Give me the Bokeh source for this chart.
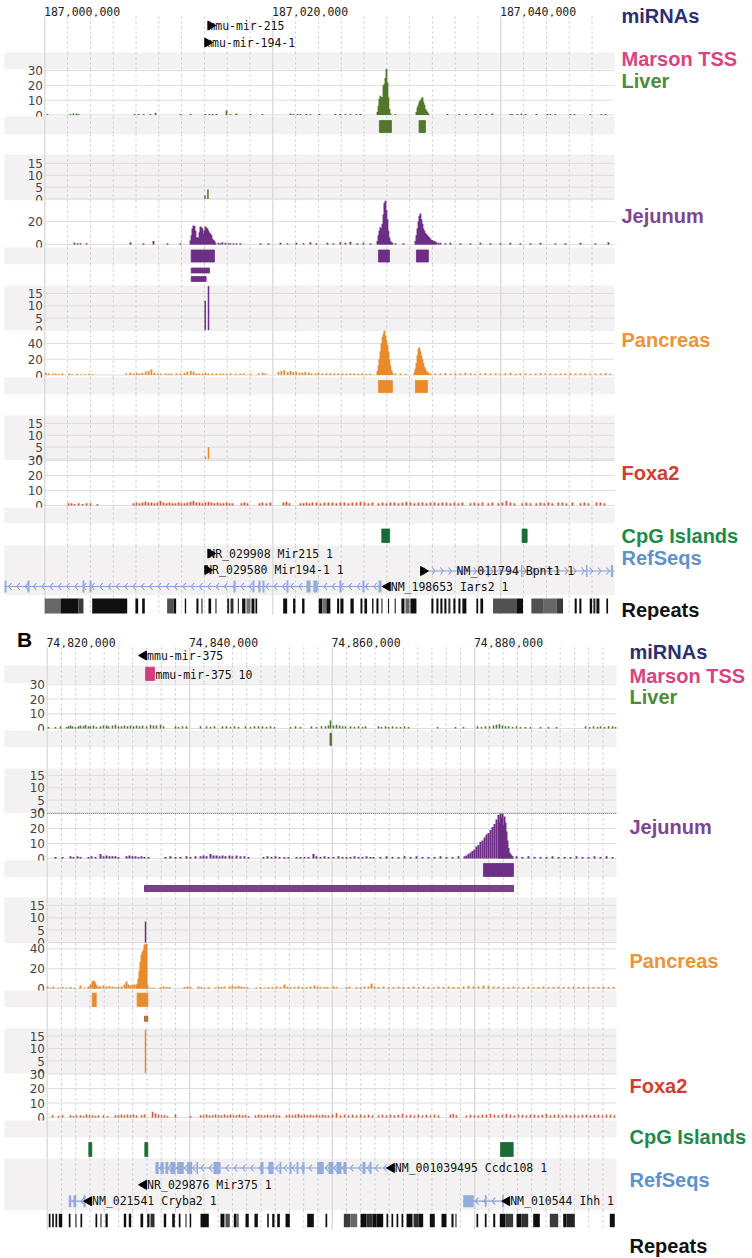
import math
from bokeh.plotting import figure
from bokeh.models import Range1d
from bokeh.layouts import column
from bokeh.embed import file_html
from bokeh.resources import INLINE
from bokeh.core.properties import value

# ============================ DATA ============================
A_START = 187_000_000
B_START = 74_820_000
A_RULER = [187_000_000, 187_020_000, 187_040_000]
B_RULER = [74_820_000, 74_840_000, 74_860_000, 74_880_000]
TRACK_LABELS = ["miRNAs", "Marson TSS", "Liver", "Jejunum", "Pancreas", "Foxa2", "CpG Islands", "RefSeqs", "Repeats"]

# ---- Panel A (positions: kb from A_START) ----
A_LIVER_POS = [0.24, 2.25, 2.51, 2.78, 2.96, 7.87, 8.22, 8.66, 9.27, 9.71, 11.90, 12.78, 14.09, 14.44, 14.71,
               15.06, 15.94, 16.29, 16.81, 18.04, 19.09, 21.55, 21.81, 22.16, 22.42, 22.95, 23.30, 24.09, 25.49, 25.93,
               26.37, 26.81, 27.34, 27.69,
               29.18, 29.27, 29.35, 29.44, 29.53, 29.62, 29.71, 29.79, 29.88, 29.97, 30.06, 30.14, 30.23, 30.32, 30.76,
               32.60, 32.69, 32.78, 32.86, 32.95, 33.04, 33.13, 33.21, 33.30, 33.39, 33.48, 33.56, 33.65,
               35.32, 36.37, 36.98, 37.77, 38.21, 38.74, 39.26, 40.84, 41.02, 41.46, 41.81, 42.16, 43.12, 44.09, 44.35,
               44.79, 46.11, 46.46, 47.86, 48.83, 49.18]
A_LIVER_VAL = [0.7, 0.7, 1, 1, 0.7, 0.7, 0.7, 0.7, 0.7, 1.5, 0.7, 0.7, 0.7, 0.7, 0.7,
               0.7, 3, 0.7, 1, 0.7, 0.7, 1, 0.7, 0.7, 0.7, 0.7, 0.7, 0.7, 0.7, 0.7,
               0.7, 0.7, 0.7, 0.7,
               2, 6, 11, 13, 12, 12, 20, 21, 25, 31, 22, 12, 4, 1, 0.7,
               2, 5, 7, 9, 10, 11, 12, 9, 7, 4, 3, 2, 1,
               0.7, 0.7, 0.7, 0.7, 0.7, 0.7, 1, 0.7, 0.7, 0.7, 1, 0.7, 0.7, 0.7, 0.7,
               0.7, 0.7, 0.7, 0.7, 0.7, 0.7]
A_LIVER_PEAK_S = [29.35, 32.83]
A_LIVER_PEAK_E = [30.41, 33.39]
A_LIVER2_POS = [14.05, 14.31]
A_LIVER2_VAL = [1.5, 4]

A_JEJ_POS = [2.60, 2.87, 3.13, 3.66, 7.52, 8.66, 9.53, 10.76, 11.90,
             12.78, 12.87, 12.95, 13.04, 13.13, 13.22, 13.30, 13.39, 13.48, 13.57, 13.65, 13.74, 13.83, 13.92, 14.00,
             14.09, 14.18, 14.27, 14.35, 14.44, 14.53, 14.62, 14.71, 14.79, 14.88, 14.97,
             15.23, 15.41, 15.58, 15.85, 16.11, 16.29, 16.55, 16.81, 17.16, 18.92, 19.62, 20.67, 21.29, 22.07, 22.69,
             23.30, 23.83, 24.79, 25.32, 25.93, 26.37, 26.81, 27.42, 27.95, 28.57,
             29.18, 29.27, 29.35, 29.44, 29.53, 29.62, 29.71, 29.79, 29.88, 29.97, 30.06, 30.14, 30.23, 30.32, 30.41, 30.49,
             30.76, 31.46,
             32.51, 32.60, 32.69, 32.78, 32.86, 32.95, 33.04, 33.13, 33.21, 33.30, 33.39, 33.48, 33.56, 33.65, 33.74,
             33.83, 33.92, 34.00, 34.09, 34.18, 34.27, 34.35, 34.53, 34.70,
             35.14, 35.58, 36.46, 37.33, 38.21, 39.09, 39.97, 40.84, 41.72, 42.60, 43.48, 44.79, 45.67, 46.99, 48.30, 49.44]
A_JEJ_VAL = [1.5, 1, 1, 1, 2, 1, 3, 1, 1,
             3.5, 8, 14, 16.5, 16, 12, 6, 6, 6, 10.7, 15.7, 15, 14, 9.5, 12,
             15.7, 14.5, 14, 12, 10.5, 9.5, 8, 5, 4, 3, 1.5,
             1.5, 1, 2, 1.5, 1, 1, 1, 1, 1, 1, 1, 1.5, 1, 1.5, 1,
             2, 1, 1.5, 1, 2, 1.5, 2.5, 1, 1.5, 1,
             3, 8, 12, 15, 14, 18, 26, 36, 38, 30, 22, 12, 6, 3, 2, 1.5,
             1, 1,
             3, 8, 14, 20, 25, 27, 22, 18, 14, 12, 10, 9, 8, 7, 6,
             5, 4, 4, 3, 3, 2, 2, 1.5, 1.5,
             1, 1.5, 1, 1, 1.5, 1, 1, 1.5, 1, 1, 1.5, 1, 1, 1.5, 1, 2]
A_JEJ_PEAK_S = [12.84, 29.27, 32.60]
A_JEJ_PEAK_E = [14.88, 30.23, 33.65]
A_JEJ_BAR_S = [12.84, 12.84]
A_JEJ_BAR_E = [14.44, 14.15]
A_JEJ2_POS = [14.07, 14.36]
A_JEJ2_VAL = [12, 18]

A_PANC_POS = [0.1, 0.35, 0.7, 0.95, 1.2, 1.55, 2.15, 2.4, 2.8, 3.2, 3.55, 3.9, 4.2,
              7.15, 7.5, 7.8, 8.05, 8.3, 8.55, 8.85, 9.1, 9.35, 9.6, 9.9, 10.15, 10.6, 10.85, 11.1, 11.55, 11.9,
              12.25, 12.5, 12.8, 13.05, 13.3, 13.55, 13.85, 14.1, 14.35, 14.7, 15.05, 15.4, 15.65, 15.95, 16.3,
              16.75, 17.15, 17.45, 18.05, 18.75, 19.1, 19.35,
              20.5, 20.75, 21.0, 21.3, 21.55, 21.8, 22.05, 22.35, 22.6, 22.85, 23.15, 23.4, 23.75, 24.0, 24.35,
              24.7, 25.05, 25.4, 25.75, 26.1, 26.45, 26.8, 27.15, 27.5, 27.85, 28.2, 28.55,
              29.18, 29.27, 29.35, 29.44, 29.53, 29.62, 29.71, 29.79, 29.88, 29.97, 30.06, 30.14, 30.23, 30.32, 30.41, 30.49,
              30.75, 31.2, 31.65,
              32.42, 32.51, 32.60, 32.69, 32.78, 32.86, 32.95, 33.04, 33.13, 33.21, 33.30, 33.39, 33.48, 33.56, 33.65, 33.83,
              34.25, 34.7, 35.15, 35.6, 36.0, 36.45, 36.9, 37.35, 37.75, 38.2, 38.65, 39.1, 39.55, 39.95, 40.4,
              40.85, 41.3, 41.7, 42.15, 42.6, 43.05, 43.5, 43.9, 44.35, 44.8, 45.25, 45.65, 46.1, 46.55, 47.0,
              47.4, 47.85, 48.3, 48.75, 49.2, 49.6]
A_PANC_VAL = [3, 2, 1.5, 2, 1, 2, 2, 1, 1.5, 1, 1, 1.5, 1,
              2, 3, 2, 3, 2, 3, 4, 5, 7, 3, 2, 2, 2, 1.5, 2, 2, 2,
              3, 4, 5, 4, 2, 2, 2, 3, 2, 2, 2, 2, 1.5, 2, 2,
              1.5, 2, 2, 1.5, 2, 3, 2,
              4, 5, 6, 4, 5, 4, 4, 3, 3, 4, 3, 2, 2, 3, 2,
              2, 2, 2, 2, 2, 1.5, 2, 2, 1.5, 2, 1.5, 1.5,
              5, 12, 20, 30, 40, 48, 52, 56, 50, 44, 38, 30, 20, 12, 6, 3,
              2, 2, 1.5,
              3, 8, 15, 25, 33, 35, 30, 25, 20, 15, 10, 8, 5, 4, 3, 2,
              2, 2, 2.5, 1.5, 2, 2, 3, 2, 1.5, 2, 2.5, 2, 2, 1.5, 2,
              3, 1.5, 2, 2, 1.5, 2, 2.5, 2, 2, 1.5, 2, 2, 2.5, 2, 2,
              2, 1.5, 2, 2, 2.5, 1.5]
A_PANC_PEAK_S = [29.27, 32.51]
A_PANC_PEAK_E = [30.49, 33.56]
A_PANC2_POS = [14.09, 14.36]
A_PANC2_VAL = [1, 5]

A_FOXA_POS = [2.08, 2.34, 2.60, 2.96, 3.31, 3.66, 4.01, 4.62,
              7.78, 8.04, 8.31, 8.57, 8.83, 9.09, 9.36, 9.62, 9.88, 10.15, 10.41, 10.68, 10.94, 11.20, 11.46, 11.73,
              11.99, 12.25, 12.51, 12.78, 13.04, 13.30, 13.57, 13.83, 14.09, 14.36, 14.62, 14.88, 15.15, 15.41, 15.67,
              15.94, 16.20, 16.46,
              17.25, 17.51, 17.78, 18.83, 19.09, 19.44, 19.79, 20.93, 21.20, 21.46,
              22.42, 22.69, 22.95, 23.21, 23.48, 23.83, 24.18, 24.53, 24.88, 25.23, 25.58, 25.93, 26.28, 26.63, 26.98,
              27.34, 27.69, 28.04, 28.39, 28.74,
              29.27, 29.62, 29.97, 30.32, 30.67, 31.02, 31.37, 31.72, 32.07, 32.42, 32.78, 33.13, 33.48, 33.83, 34.18,
              34.53, 34.88, 35.23, 35.58, 35.93, 36.28, 36.63, 37.33, 37.68, 38.04, 38.39, 38.91, 39.26, 39.79, 40.14,
              40.49, 40.84, 41.19, 41.89, 42.24, 42.60, 43.12, 43.48, 43.82, 44.17, 44.52, 45.05, 45.40, 45.75, 46.28,
              46.99, 47.33, 47.68, 48.39, 48.74, 49.09]
A_FOXA_VAL = [1.5, 1.5, 1, 1.5, 1, 1.5, 1.5, 1,
              1.5, 2, 1.5, 2, 2.5, 2, 2, 1.5, 2, 3, 2, 1.5, 2, 1.5, 1.5, 2,
              1.5, 1.5, 2, 2.5, 3, 2, 2, 1.5, 2, 2.5, 2, 1.5, 2, 1.5, 1.5,
              2, 1.5, 1.5,
              1.5, 2, 1.5, 1.5, 2, 1.5, 2, 2, 2.5, 1.5,
              1.5, 1.5, 2, 1.5, 2, 2, 1.5, 2, 2, 2, 1.5, 2, 2, 1.5, 2,
              2, 2.5, 2, 1.5, 2,
              1.5, 2, 1.5, 2, 2, 1.5, 2, 2.5, 2, 1.5, 2, 2, 1.5, 2, 2,
              1.5, 2, 2, 1.5, 2, 1.5, 2, 1.5, 2, 1.5, 2, 1.5, 2, 1.5, 2,
              3, 2, 1.5, 1.5, 2, 1.5, 1.5, 2, 1.5, 2, 1.5, 2, 2, 1.5, 2,
              1.5, 2, 1.5, 2, 2, 1.5]

A_CPG_S = [29.56, 41.87]
A_CPG_E = [30.25, 42.31]

A_IARS2 = (-3.53, 29.79)
A_IARS2_EX_S = [-3.53, -1.52, 3.31, 3.92, 16.55, 18.22, 18.74, 19.09, 21.20, 22.95, 23.56, 25.84, 27.86, 29.27]
A_IARS2_EX_E = [-3.36, -1.34, 3.48, 4.10, 16.73, 18.39, 18.92, 19.27, 21.37, 23.30, 23.92, 26.02, 28.04, 29.53]
A_BPNT1 = (32.89, 49.96)
A_BPNT1_EX_S = [38.85, 41.77, 47.47, 49.66]
A_BPNT1_EX_E = [38.98, 41.90, 47.60, 49.84]
A_MIR215 = 14.27
A_MIR194 = 14.00

A_REP_S = [0.0, 1.38, 2.96, 4.16, 7.95, 8.54, 10.73, 11.31, 12.28, 13.30, 13.74, 14.36, 14.97, 16.00, 16.29,
           16.93, 17.31, 17.69, 18.13, 18.48, 20.91, 21.78, 22.57, 24.03, 24.35, 24.70, 25.64, 25.93, 26.81, 27.69,
           28.04, 28.71, 29.09, 29.53, 30.11, 30.69, 31.28, 31.64, 32.07, 33.91, 34.35, 34.70, 35.05, 35.40, 35.84,
           36.28, 36.63, 37.86, 38.21, 39.32, 41.37, 42.68, 43.71, 44.88, 46.48, 46.89, 47.80, 48.12, 48.39, 49.26]
A_REP_E = [1.38, 2.96, 3.39, 7.23, 8.19, 8.77, 11.31, 11.52, 12.40, 13.48, 13.83, 14.59, 15.06, 16.17, 16.55,
           17.02, 17.60, 18.04, 18.39, 18.63, 21.26, 21.98, 22.78, 24.35, 24.70, 25.05, 25.82, 26.20, 27.10, 27.86,
           28.27, 28.83, 29.27, 29.62, 30.20, 30.78, 31.55, 31.99, 32.60, 34.09, 34.53, 34.88, 35.23, 35.58, 36.02,
           36.46, 36.98, 38.01, 38.45, 41.37, 41.95, 43.71, 44.88, 45.46, 46.66, 47.07, 48.01, 48.30, 48.65, 49.41]
A_REP_SCORE = [0.6, 1, 0.8, 1, 1, 1, 0.7, 1, 1, 1, 1, 1, 1, 0.9, 0.85,
               1, 1, 0.55, 1, 1, 1, 1, 1, 1, 0.55, 1, 1, 1, 1, 1,
               1, 1, 1, 1, 1, 1, 1, 0.6, 1, 1, 1, 1, 1, 0.85, 1,
               1, 1, 1, 1, 0.7, 1, 0.7, 0.6, 0.8, 1, 1, 1, 0.9, 1, 1]

# ---- Panel B (positions: kb from B_START) ----
B_LIVER_POS = [0.18, 1.16, 1.87, 2.71, 2.99, 3.27, 3.55, 3.97, 4.39, 4.67, 5.09, 5.37, 5.79, 6.08, 6.50, 6.92,
               7.48, 7.90, 8.32, 8.60, 9.16, 9.58, 10.00, 10.43, 10.85, 11.27, 11.69, 12.11, 12.53, 12.95, 13.38,
               13.94, 14.50, 14.92, 15.34, 15.90, 16.32, 18.01, 18.43, 18.99, 19.55, 21.52, 22.36, 22.92, 23.48,
               24.60, 25.16, 25.72, 26.29, 26.85, 27.83, 28.53, 29.09, 29.65, 30.21, 30.78, 31.34, 31.90, 34.15,
               34.85, 35.55, 37.09, 37.80, 38.50, 39.06, 39.48, 39.76, 40.18, 40.60, 41.03, 41.45, 41.87, 42.57,
               43.13, 43.70, 44.26, 44.68, 46.50, 46.92, 47.49, 47.91, 48.47, 49.03, 49.59, 50.15, 50.71, 54.78,
               57.30, 58.43, 60.39, 60.95, 61.51, 62.08, 62.64, 63.06, 63.48, 63.90, 64.32, 64.75, 65.31, 65.87,
               66.43, 67.13, 67.84, 69.24, 70.36, 71.49, 75.56, 76.12, 76.68, 77.24, 77.66, 78.22, 78.79, 79.35, 79.77]
B_LIVER_VAL = [1, 1, 1.5, 1, 1.5, 2, 1.5, 1, 1.5, 2, 1.5, 2.5, 1.5, 1.5, 2, 1,
               1.5, 2, 2, 1.5, 2, 2.5, 1.5, 1.5, 2, 1.5, 2, 1.5, 2, 1.5, 2,
               1.5, 2.5, 2, 2, 2.5, 1.5, 1.5, 1, 1.5, 1.5, 1.5, 1.5, 1, 1.5,
               1.5, 1.5, 1, 1.5, 1, 1.5, 1, 1.5, 1.5, 1.5, 1, 1.5, 1, 1,
               1.5, 1, 1.5, 1, 1.5, 1.5, 2, 5.5, 2, 2.5, 2, 1.5, 1.5, 1.5,
               1, 1.5, 1, 1.5, 1.5, 1, 1.5, 1, 1.5, 1, 1, 1.5, 1, 1,
               1, 1, 1.5, 1, 1.5, 1.5, 2, 2.5, 3, 2, 1.5, 1.5, 1, 1.5,
               1, 1, 1, 1, 1, 1, 1.5, 1, 1.5, 1, 1.5, 1, 1.5, 1.5, 1]
B_LIVER_PEAK_S = [39.69]
B_LIVER_PEAK_E = [39.90]

B_JEJ_POS = [1.16, 2.15, 3.27, 3.69, 4.25, 4.67, 5.79, 6.22, 6.78, 7.48,
             7.90, 8.32, 8.74, 9.16, 9.58, 10.00, 11.13, 11.55, 11.97, 12.39,
             12.81, 13.24, 13.66, 14.22, 16.60, 17.30, 18.01, 18.71, 19.55, 20.11,
             20.81, 21.52, 21.94, 22.36, 22.92, 23.34, 23.76, 24.18, 24.60, 25.02,
             25.58, 26.00, 26.57, 27.13, 27.69, 28.25, 30.35, 30.92, 31.48, 32.04,
             32.60, 33.30, 33.86, 34.99, 35.55, 36.11, 36.67, 37.37, 37.80, 38.36,
             38.92, 39.48, 40.18, 40.88, 41.45, 42.01, 42.57, 43.13, 43.70, 44.26,
             44.82, 45.38, 45.80, 46.78, 47.63, 48.47, 49.31, 50.15, 51.00, 51.84,
             52.68, 53.52, 54.36, 55.21, 56.05, 56.89, 57.73, 58.58,
             58.85, 59.13, 59.41, 59.69, 59.97, 60.25, 60.53, 60.81, 61.10, 61.38, 61.66, 61.94, 62.22, 62.50, 62.78,
             63.06, 63.34, 63.48, 63.62, 63.76, 63.90, 64.04, 64.18, 64.32, 64.46, 64.60, 64.75, 64.89, 65.03, 65.17,
             65.31,
             65.87, 66.71, 67.55, 68.40, 69.24, 70.08, 70.92, 71.77, 72.61, 73.45, 74.29, 75.14, 75.98, 76.82, 77.66,
             78.51, 79.35]
B_JEJ_VAL = [1, 1, 1.5, 1, 1.5, 1, 1, 1.5, 1, 3,
             1.5, 2, 1.5, 1.5, 1.5, 1, 1.5, 2, 1.5, 1.5,
             1, 1.5, 1, 1, 1, 1.5, 1, 1, 1.5, 1,
             1.5, 1.5, 2, 1.5, 3, 2, 2, 1.5, 2, 1.5,
             2, 1.5, 2, 1.5, 1.5, 1, 1, 1.5, 1, 1.5,
             1, 1, 1, 1, 1, 1, 1, 3, 1.5, 1,
             1.5, 1, 1, 1.5, 1, 1, 1, 1.5, 1, 1,
             1.5, 1, 1, 1, 1.5, 1, 1, 1.5, 1, 1.5,
             1, 1, 1, 1.5, 1, 1, 1.5, 1.5,
             2, 3, 4, 5, 6, 8, 9, 11, 12, 14, 16, 17, 19, 21, 23,
             26, 29, 24, 30, 27, 30, 22, 28, 24, 18, 12, 7, 4, 3, 2,
             1.5,
             1.5, 1, 1.5, 1, 1, 1, 1.5, 1, 1, 1, 1.5, 1, 1, 1.5, 1,
             1.5, 1]
B_JEJ_PEAK_S = [61.23]
B_JEJ_PEAK_E = [65.44]
B_JEJ_BAR_S = [13.66]
B_JEJ_BAR_E = [65.44]
B_JEJ2_POS = [13.80]
B_JEJ2_VAL = [8.5]

B_PANC_POS = [0.04, 0.46, 0.88, 1.59, 2.15, 2.71, 3.27, 3.83, 4.67, 5.23,
              5.79, 6.08, 6.36, 6.50, 6.64, 6.78, 6.92, 7.20,
              7.48, 7.90, 8.32, 8.74, 9.16, 9.58, 10.00, 10.43, 10.85, 11.13, 11.41, 11.69, 11.97, 12.25, 12.53,
              12.67, 12.81, 12.95, 13.09, 13.24, 13.38, 13.52, 13.66, 13.80, 13.94, 14.08,
              14.50, 14.92, 15.90, 16.32, 16.74, 17.16, 19.27, 19.69, 20.11, 21.24,
              21.66, 22.08, 22.64, 23.62, 24.04, 24.46, 24.88, 25.58, 26.00, 26.43,
              26.85, 27.27, 27.69, 28.11, 29.37, 29.93, 30.50, 31.06, 31.62, 32.18,
              32.74, 33.30, 33.72, 34.15, 34.71, 35.27, 35.83, 36.39, 36.95, 37.51,
              37.93, 38.36, 38.92, 39.34, 40.18, 40.60, 42.01, 42.43, 43.42, 43.98,
              44.54, 45.10, 45.52, 45.94,
              46.50, 47.21, 47.91, 48.61, 49.31, 50.01, 50.71, 51.42, 52.12, 52.82,
              53.52, 54.22, 54.92, 55.63, 56.33, 57.03, 57.73, 58.43, 59.13, 59.83,
              60.53, 61.23, 61.94, 62.64, 63.34, 64.04, 64.75, 65.45, 66.15, 66.85,
              67.55, 68.26, 68.96, 69.66, 70.36, 71.06, 71.77, 72.47, 73.17, 73.87,
              74.57, 75.28, 75.98, 76.68, 77.38, 78.08, 78.79, 79.49]
B_PANC_VAL = [2, 1, 2, 1, 1.5, 1, 1.5, 1, 3, 1,
              2, 4, 7, 8, 7, 5, 3, 2,
              2, 3, 2, 2.5, 2, 1.5, 2, 2, 4, 7, 4, 3, 3.5, 4, 4,
              5, 10, 18, 27, 34, 37, 39, 44, 45, 45, 3,
              1, 1, 1.5, 2, 1.5, 1.5, 1.5, 2, 1.5, 2,
              1.5, 1, 1.5, 1, 2, 1.5, 2, 2, 3, 2,
              2.5, 2, 1.5, 1.5, 1, 1.5, 1, 1.5, 1.5, 2,
              1.5, 4, 2, 1.5, 1.5, 2, 1.5, 1.5, 2, 3,
              2, 1.5, 1.5, 1.5, 2, 1.5, 1.5, 2, 1.5, 1.5,
              2, 2, 5, 2,
              1.5, 2, 1.5, 1.5, 2, 1.5, 1.5, 2, 1.5, 2,
              1.5, 1.5, 2, 1.5, 2, 1.5, 1.5, 2, 2.5, 2,
              2, 3, 2.5, 2, 2, 1.5, 1.5, 2, 1.5, 1.5,
              2, 1.5, 1.5, 2, 1.5, 1.5, 2, 1.5, 1.5, 2,
              1.5, 1.5, 2, 1.5, 1.5, 2, 1.5, 1.5]
B_PANC_PEAK_S = [6.32, 12.63]
B_PANC_PEAK_E = [6.88, 14.12]
B_PANC_BAR_S = [13.66]
B_PANC_BAR_E = [14.12]
B_PANC2_POS = [13.80]
B_PANC2_VAL = [17.5]

B_FOXA_POS = [0.74, 1.59, 2.15, 3.27, 3.69, 4.11, 4.67, 5.09, 5.52, 5.94,
              6.36, 6.78, 7.20, 7.90, 8.46, 9.58, 10.00, 10.43, 10.85, 11.27,
              11.69, 12.11, 12.53, 13.24, 13.66, 14.78, 15.20, 15.62, 16.04, 16.46,
              16.88, 18.01, 20.11, 21.52, 21.94, 22.36, 22.78, 23.20, 23.62, 24.04,
              24.46, 24.88, 25.30, 25.72, 26.15, 26.57, 26.99, 27.41, 27.83, 28.25,
              29.23, 29.65, 30.07, 30.50, 30.92, 31.34, 31.76, 32.18, 32.60, 33.58,
              34.00, 34.43, 34.85, 35.27, 35.69, 36.11, 36.53, 36.95, 37.37, 37.80,
              38.22, 38.64, 39.06, 39.48, 40.04, 40.60, 41.17, 41.73, 42.29, 42.85,
              43.42, 43.98, 44.54, 45.10, 45.66, 46.50, 47.05, 47.61, 48.17, 48.73,
              49.29, 49.86, 50.42, 50.98, 51.54, 52.10, 52.66, 53.22, 53.79, 54.35,
              54.91, 56.59, 57.01, 57.43, 58.84, 59.40, 59.96, 60.52, 61.08, 61.64,
              62.21, 62.77, 63.33, 63.89, 64.45, 65.01, 65.57, 66.14, 66.70, 67.26,
              67.82, 68.38, 68.94, 69.50, 70.07, 70.63, 71.19, 71.75, 72.31, 72.87,
              73.43, 74.00, 74.56, 75.12, 75.68, 76.24, 76.80, 77.36, 77.93, 78.49,
              79.05, 79.61]
B_FOXA_VAL = [1.5, 1, 1.5, 1.5, 1, 1.5, 1.5, 1, 2, 1.5,
              1.5, 1, 1.5, 1.5, 1, 1.5, 1.5, 2, 1.5, 2,
              1.5, 2, 1.5, 1.5, 2, 4, 3, 2, 1.5, 1.5,
              1, 2, 1, 1.5, 1.5, 2, 1.5, 1.5, 2, 1.5,
              1.5, 2, 1.5, 2, 1.5, 1.5, 2, 1.5, 1.5, 1,
              1.5, 2, 1.5, 1.5, 2, 1.5, 2, 1.5, 1.5, 1.5,
              2, 1.5, 2, 2.5, 1.5, 2, 1.5, 2, 1.5, 2,
              1.5, 2, 1.5, 1.5, 2, 3, 1.5, 2, 1.5, 2,
              1.5, 2, 1.5, 2, 1.5, 1.5, 2, 1.5, 2, 1.5,
              2, 2.5, 1.5, 2, 1.5, 2, 1.5, 2, 1.5, 2,
              1.5, 2, 2.5, 1.5, 1.5, 2, 1.5, 1.5, 2, 2,
              2.5, 2, 1.5, 2, 2.5, 2, 1.5, 2, 2, 1.5,
              2, 2, 1.5, 2, 2.5, 1.5, 2, 2, 1.5, 2,
              1.5, 2, 1.5, 2, 2, 1.5, 2, 2, 1.5, 2,
              2, 1.5]

B_CPG_S = [5.84, 13.70, 63.62]
B_CPG_E = [6.26, 14.12, 65.40]
B_TSS_S = [13.80]
B_TSS_E = [15.06]
B_MIR375 = 13.11

B_CCDC108 = (15.20, 47.90)
B_CCDC108_EX_S = [15.20, 15.90, 16.60, 17.30, 18.25, 19.65, 20.95, 23.34, 29.94, 31.06, 32.60, 34.01, 34.99,
                  35.83, 37.89, 39.48, 40.60, 41.59, 44.25, 45.24]
B_CCDC108_EX_E = [15.66, 16.36, 16.98, 18.01, 19.17, 20.35, 21.17, 24.32, 30.36, 31.76, 32.88, 34.29, 35.27,
                  36.11, 38.82, 40.18, 41.31, 42.01, 44.67, 45.52]
B_CRYBA2 = (3.03, 5.40)
B_CRYBA2_EX_S = [3.03, 3.69, 5.10]
B_CRYBA2_EX_E = [3.37, 4.07, 5.40]
B_IHH = (58.39, 64.09)
B_IHH_EX_S = [58.39, 61.42, 63.85]
B_IHH_EX_E = [59.87, 61.65, 64.09]

B_REP_S = [0.22, 0.70, 1.16, 1.63, 3.03, 3.97, 4.67, 6.78, 7.48, 8.18, 10.75, 11.45, 13.09, 14.04, 14.50,
           16.36, 17.54, 18.47, 19.41, 20.01, 21.52, 24.32, 25.02, 26.19, 26.57, 27.83, 29.09, 30.88, 31.58, 32.28,
           33.45, 36.49, 39.06, 41.63, 42.57, 43.98, 44.81, 45.66, 46.22, 47.62, 48.32, 49.03, 49.73, 50.43, 51.41,
           52.11, 53.70, 55.34, 56.74, 57.30, 60.25, 61.42, 62.60, 63.52, 64.32, 65.87, 66.57, 68.21, 70.54, 72.42,
           72.88, 78.96]
B_REP_E = [0.46, 0.93, 1.40, 2.11, 3.27, 4.11, 4.91, 7.02, 7.62, 8.50, 11.09, 11.79, 13.47, 14.36, 15.06,
           16.70, 17.91, 18.71, 19.55, 20.21, 22.68, 24.88, 25.63, 26.57, 26.89, 28.29, 29.56, 31.10, 31.90, 32.65,
           34.05, 37.42, 39.30, 42.57, 43.51, 44.81, 45.66, 46.22, 47.16, 47.86, 48.56, 49.27, 49.97, 51.27, 52.11,
           52.77, 54.40, 56.04, 57.03, 57.44, 60.49, 61.66, 62.88, 64.32, 65.40, 66.57, 67.51, 69.14, 71.72, 72.88,
           74.05, 79.66]
B_REP_SCORE = [1, 1, 1, 1, 1, 1, 1, 1, 1, 1, 1, 1, 1, 1, 0.85,
               1, 1, 1, 1, 1, 1, 1, 0.7, 1, 0.6, 1, 1, 1, 1, 1,
               1, 1, 1, 0.8, 0.6, 1, 0.85, 1, 1, 1, 1, 1, 1, 1, 0.85,
               1, 1, 1, 1, 1, 1, 1, 1, 1, 0.8, 1, 0.85, 1, 0.8, 1,
               0.9, 1]

# ============================ STYLE ============================
GREY = "#f3f1f2"
SANS = value("Liberation Sans")
MONO = value("DejaVu Sans Mono")
TICKF = value("DejaVu Sans")

C_LIVER = "#52762c"
C_JEJ = "#6d2e85"
C_PANC = "#e98a2c"
C_FOXA = "#dc5530"
C_CPG = "#1b6b36"
C_GENE = "#86a0d4"
C_EXON = "#93acdc"
C_TSS = "#d6397d"

LABEL_COLORS = ["#2c2f72", "#d8447f", "#4e8b3a", "#7d4592", "#ec9436", "#d43d2f", "#1c8a4b", "#5f92cc", "#111111"]
PAGE_W = 752


def shade(d):
    g = int(round(235 - 220 * d))
    return "#%02x%02x%02x" % (g, g, g)


class Panel:
    def __init__(self, start, px0, bpp, top, bot, right, tick_px):
        self.start, self.px0, self.bpp = start, px0, bpp
        self.top, self.bot, self.right, self.tick_px = top, bot, right, tick_px
        self.n = 0
        p = figure(width=PAGE_W, height=bot - top,
                   x_range=Range1d(self.px(0), self.px(PAGE_W)),
                   y_range=Range1d(bot, top),
                   output_backend="svg", toolbar_location=None,
                   x_axis_location=None, y_axis_location=None, min_border=0)
        p.grid.visible = False
        p.outline_line_color = None
        p.background_fill_color = "white"
        p.border_fill_color = "white"
        self.p = p

    def px(self, x):
        return self.start + (x - self.px0) * self.bpp

    def kb(self, k):
        return self.start + k * 1000.0

    def kbs(self, ks):
        return [self.kb(k) for k in ks]

    def vgrid(self, top, bot):
        end = self.px(self.right)
        minor, major = [], []
        b = self.start
        while b < end:
            (major if b % 20000 == 0 else minor).append(b)
            b += 2000
        self.p.segment(x0=minor, x1=minor, y0=top, y1=bot, line_color="#c8c8c8", line_dash="2 3", line_width=1)
        self.p.segment(x0=major, x1=major, y0=top, y1=bot, line_color="#d8d8d8", line_width=1.3)

    def band(self, top, bot, grey):
        self.p.quad(left=self.px(4), right=self.px(self.right), top=top, bottom=bot,
                    fill_color=GREY if grey else "white", line_color=None)
        self.vgrid(top, bot)

    def signal(self, top, bot, grey, y0, k, ticks, pos, vals, color, w=1.8):
        self.band(top, bot, grey)
        name = "r%d" % self.n
        self.n += 1
        rng = dict(self.p.extra_y_ranges)
        rng[name] = Range1d(start=-(self.bot - y0) / k, end=(y0 - self.top) / k)
        self.p.extra_y_ranges = rng
        n = len(ticks)
        self.p.segment(x0=[self.start] * n, x1=[self.px(self.right)] * n, y0=ticks, y1=ticks,
                       y_range_name=name, line_color="#dddddd", line_width=1)
        self.p.text(x=[self.px(self.tick_px)] * n, y=ticks, text=[str(t) for t in ticks], y_range_name=name,
                    text_align="right", text_baseline="middle", text_font=TICKF, text_font_size="12px",
                    text_color="#444444")
        if pos:
            self.p.vbar(x=self.kbs(pos), width=w * self.bpp, top=vals, bottom=0, y_range_name=name,
                        fill_color=color, line_color=None)
        return name

    def boxes(self, s, e, y0, y1, color, line=None):
        self.p.quad(left=self.kbs(s), right=self.kbs(e), top=y0, bottom=y1, fill_color=color,
                    line_color=line or color, line_width=0.8)

    def arrow(self, x, y, strand):
        self.p.scatter(x=[x], y=[y], marker="triangle", size=9,
                       angle=(math.pi / 2 if strand < 0 else -math.pi / 2),
                       fill_color="black", line_color="black")

    def mono(self, x, y, txt):
        self.p.text(x=[x], y=[y], text=[txt], text_font=MONO, text_font_size="11.5px",
                    text_baseline="middle", text_align="left", text_color="#111111")

    def gene(self, y, span, strand, exs, exe, label, label_x=None):
        s, e = self.kb(span[0]), self.kb(span[1])
        p = self.p
        p.segment(x0=[s], x1=[e], y0=[y], y1=[y], line_color=C_GENE, line_width=1.2)
        step, d = 8.3 * self.bpp, 3 * self.bpp
        cx = []
        c = s + 4 * self.bpp
        while c < e - 4 * self.bpp:
            cx.append(c)
            c += step
        if strand < 0:
            xa, xb = [c + d for c in cx], cx
        else:
            xa, xb = cx, [c + d for c in cx]
        p.segment(x0=xa, y0=y - 3.5, x1=xb, y1=y, line_color=C_GENE, line_width=1.1)
        p.segment(x0=xb, y0=y, x1=xa, y1=y + 3.5, line_color=C_GENE, line_width=1.1)
        p.quad(left=self.kbs(exs), right=self.kbs(exe), top=y - 6, bottom=y + 6,
               fill_color=C_EXON, line_color=None)
        if strand < 0:
            self.arrow(e + 3.2 * self.bpp, y, -1)
            lx = e + 6.3 * self.bpp if label_x is None else label_x
        else:
            self.arrow(s + 3.5 * self.bpp, y, 1)
            lx = s + 7 * self.bpp if label_x is None else label_x
        self.mono(lx, y, label)

    def small_feature(self, pos_kb, y, strand, label):
        x = self.kb(pos_kb)
        if strand < 0:
            self.arrow(x + 3.2 * self.bpp, y, -1)
            self.mono(x + 6.5 * self.bpp, y, label)
        else:
            self.arrow(x + 3.0 * self.bpp, y, 1)
            self.mono(x + 0.8 * self.bpp, y, label)

    def repeats(self, s, e, score, y0, y1):
        self.p.quad(left=self.kbs(s), right=self.kbs(e), top=y0, bottom=y1,
                    fill_color=[shade(v) for v in score], line_color=None)

    def ruler(self, ticks, y):
        self.p.text(x=[t - 0.8 * self.bpp for t in ticks], y=[y] * len(ticks), text=["{:,}".format(t) for t in ticks],
                    text_font=MONO, text_font_size="11.5px", text_baseline="middle", text_align="left",
                    text_color="#222222")

    def letter(self, txt, y):
        self.p.text(x=[self.px(24)], y=[y], text=[txt], text_font=SANS, text_font_style="bold",
                    text_font_size="21px", text_align="center", text_baseline="middle", text_color="black")

    def labels(self, ys, xpx):
        self.p.text(x=[self.px(xpx)] * len(ys), y=ys, text=TRACK_LABELS, text_color=LABEL_COLORS,
                    text_font=SANS, text_font_style="bold", text_font_size="20px",
                    text_align="left", text_baseline="middle")


# ============================ PANEL A ============================
A = Panel(A_START, 44.3, 20000 / 228.0, 0, 620, 614, 42.5)
A.ruler(A_RULER, 11)
A.letter("A", 32)
A.band(16, 52, False)
A.small_feature(A_MIR215, 25, 1, "mmu-mir-215")
A.small_feature(A_MIR194, 42, 1, "mmu-mir-194-1")
A.band(52, 69, True)
A.signal(69, 116, False, 114.5, 1.48, [0, 10, 20, 30], A_LIVER_POS, A_LIVER_VAL, C_LIVER)
A.band(116, 134, True)
A.boxes(A_LIVER_PEAK_S, A_LIVER_PEAK_E, 120, 132, C_LIVER)
A.band(134, 154, False)
A.signal(154, 200, True, 198.5, 2.37, [0, 5, 10, 15], A_LIVER2_POS, A_LIVER2_VAL, C_LIVER, w=1.5)
A.signal(200, 247, False, 244, 1.15, [0, 20], A_JEJ_POS, A_JEJ_VAL, C_JEJ)
A.band(247, 264, True)
A.boxes(A_JEJ_PEAK_S, A_JEJ_PEAK_E, 249.5, 261.5, C_JEJ)
A.band(264, 285, False)
A.boxes(A_JEJ_BAR_S[:1], A_JEJ_BAR_E[:1], 267.5, 272.5, C_JEJ)
A.boxes(A_JEJ_BAR_S[1:], A_JEJ_BAR_E[1:], 276, 281, C_JEJ)
A.signal(285, 330, True, 330, 2.47, [0, 5, 10, 15], A_JEJ2_POS, A_JEJ2_VAL, C_JEJ, w=1.5)
A.signal(330, 377, False, 374.5, 0.79, [0, 20, 40], A_PANC_POS, A_PANC_VAL, C_PANC)
A.band(377, 394, True)
A.boxes(A_PANC_PEAK_S, A_PANC_PEAK_E, 380, 392, C_PANC)
A.band(394, 415, False)
A.signal(415, 460, True, 458.5, 2.37, [0, 5, 10, 15], A_PANC2_POS, A_PANC2_VAL, C_PANC, w=1.5)
A.signal(460, 507, False, 505, 1.5, [0, 10, 20, 30], A_FOXA_POS, A_FOXA_VAL, C_FOXA)
A.band(507, 523, True)
A.band(523, 545, False)
A.boxes(A_CPG_S, A_CPG_E, 528.5, 542, C_CPG)
A.band(545, 595, True)
A.small_feature(A_MIR215, 553, 1, "NR_029908 Mir215 1")
A.small_feature(A_MIR194, 569.5, 1, "NR_029580 Mir194-1 1")
A.gene(570.5, A_BPNT1, 1, A_BPNT1_EX_S, A_BPNT1_EX_E, "NM_011794 Bpnt1 1", label_x=A.px(456))
A.gene(586, A_IARS2, -1, A_IARS2_EX_S, A_IARS2_EX_E, "NM_198653 Iars2 1")
A.band(595, 614, False)
A.repeats(A_REP_S, A_REP_E, A_REP_SCORE, 598, 613)
A.labels([15, 58, 80, 215, 339, 472, 535, 557, 609], 621)

# ============================ PANEL B ============================
B = Panel(B_START, 46.7, 20000 / 142.5, 620, 1258, 616, 44.5)
B.ruler(B_RULER, 641.5)
B.letter("B", 639)
B.band(647, 665, False)
B.small_feature(B_MIR375, 655, -1, "mmu-mir-375")
B.band(665, 683, True)
B.boxes(B_TSS_S, B_TSS_E, 666.7, 680, C_TSS)
B.mono(B.kb(B_TSS_E[0]) + 1.0 * B.bpp, 674, "mmu-mir-375 10")
B.signal(683, 730, False, 728, 1.475, [0, 10, 20, 30], B_LIVER_POS, B_LIVER_VAL, C_LIVER, w=1.6)
B.band(730, 747, True)
B.boxes(B_LIVER_PEAK_S, B_LIVER_PEAK_E, 732.7, 745, C_LIVER)
B.band(747, 768, False)
B.signal(768, 813, True, 812, 2.47, [0, 5, 10, 15], [], [], C_LIVER)
jn = B.signal(813, 860, False, 858, 1.5, [0, 10, 20, 30], B_JEJ_POS, B_JEJ_VAL, C_JEJ, w=2.0)
B.p.segment(x0=[B.start], x1=[B.px(B.right)], y0=[30], y1=[30], y_range_name=jn,
            line_color="#8a8a8a", line_dash="1 1", line_width=1)
B.band(860, 877, True)
B.boxes(B_JEJ_PEAK_S, B_JEJ_PEAK_E, 863, 876, C_JEJ)
B.band(877, 897, False)
B.boxes(B_JEJ_BAR_S, B_JEJ_BAR_E, 885, 891, "#7b3f8e", "#5a2a6e")
B.signal(897, 943, True, 942, 2.47, [0, 5, 10, 15], B_JEJ2_POS, B_JEJ2_VAL, C_JEJ, w=1.5)
B.signal(943, 990, False, 988, 0.99, [0, 20, 40], B_PANC_POS, B_PANC_VAL, C_PANC, w=2.0)
B.band(990, 1007, True)
B.boxes(B_PANC_PEAK_S, B_PANC_PEAK_E, 992.7, 1006, C_PANC)
B.band(1007, 1028, False)
B.boxes(B_PANC_BAR_S, B_PANC_BAR_E, 1015.7, 1020.7, "#c47a32", "#8a5a2a")
B.signal(1028, 1073, True, 1073, 2.5, [0, 5, 10, 15], B_PANC2_POS, B_PANC2_VAL, C_PANC, w=1.5)
B.signal(1073, 1120, False, 1117, 1.45, [0, 10, 20, 30], B_FOXA_POS, B_FOXA_VAL, C_FOXA, w=1.6)
B.band(1120, 1137, True)
B.band(1137, 1158, False)
B.boxes(B_CPG_S, B_CPG_E, 1142, 1156, C_CPG)
B.band(1158, 1210, True)
B.gene(1167.5, B_CCDC108, -1, B_CCDC108_EX_S, B_CCDC108_EX_E, "NM_001039495 Ccdc108 1")
B.small_feature(B_MIR375, 1184.3, -1, "NR_029876 Mir375 1")
B.gene(1200.7, B_CRYBA2, -1, B_CRYBA2_EX_S, B_CRYBA2_EX_E, "NM_021541 Cryba2 1")
B.gene(1200.7, B_IHH, -1, B_IHH_EX_S, B_IHH_EX_E, "NM_010544 Ihh 1")
B.band(1210, 1229, False)
B.repeats(B_REP_S, B_REP_E, B_REP_SCORE, 1213.3, 1226.7)
B.labels([651.7, 675, 696.7, 826, 960, 1085, 1136.7, 1179, 1245], 629)

layout = column(A.p, B.p)
open("out.html", "w").write(file_html(layout, INLINE))
